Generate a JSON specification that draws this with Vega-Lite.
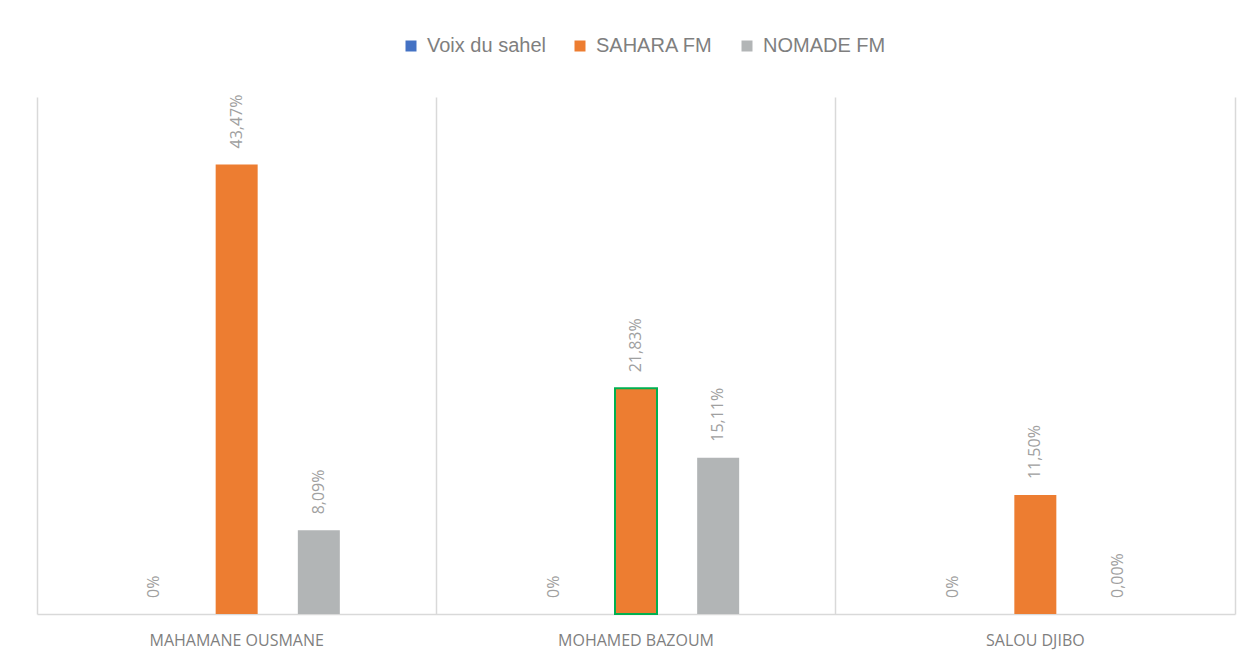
{
  "$schema": "https://vega.github.io/schema/vega-lite/v6.json",
  "width": 1198,
  "height": 517,
  "autosize": {"type": "none"},
  "padding": {"left": 37, "top": 97, "right": 17, "bottom": 44},
  "background": "white",
  "config": {
    "view": {"stroke": null},
    "font": "Liberation Sans"
  },
  "data": {
    "values": [
      {"candidat": "MAHAMANE OUSMANE", "radio": "Voix du sahel", "value": 0, "label": "0%"},
      {"candidat": "MAHAMANE OUSMANE", "radio": "SAHARA FM", "value": 0.4347, "label": "43,47%"},
      {"candidat": "MAHAMANE OUSMANE", "radio": "NOMADE FM", "value": 0.0809, "label": "8,09%"},
      {"candidat": "MOHAMED BAZOUM", "radio": "Voix du sahel", "value": 0, "label": "0%"},
      {"candidat": "MOHAMED BAZOUM", "radio": "SAHARA FM", "value": 0.2183, "label": "21,83%"},
      {"candidat": "MOHAMED BAZOUM", "radio": "NOMADE FM", "value": 0.1511, "label": "15,11%"},
      {"candidat": "SALOU DJIBO", "radio": "Voix du sahel", "value": 0, "label": "0%"},
      {"candidat": "SALOU DJIBO", "radio": "SAHARA FM", "value": 0.115, "label": "11,50%"},
      {"candidat": "SALOU DJIBO", "radio": "NOMADE FM", "value": 0, "label": "0,00%"}
    ]
  },
  "encoding": {
    "x": {
      "field": "candidat",
      "type": "nominal",
      "sort": ["MAHAMANE OUSMANE", "MOHAMED BAZOUM", "SALOU DJIBO"],
      "scale": {"paddingInner": 0, "paddingOuter": 0},
      "axis": {
        "title": null,
        "bandPosition": 0,
        "grid": true,
        "gridColor": "#d9d9d9",
        "gridWidth": 1.5,
        "domain": true,
        "domainColor": "#d9d9d9",
        "domainWidth": 1.5,
        "ticks": false,
        "labelAngle": 0,
        "labelAlign": "center",
        "labelPadding": 18,
        "labelFontSize": 16,
        "labelColor": "#7f7f7f",
        "labelFont": "Open Sans"
      }
    },
    "xOffset": {
      "field": "radio",
      "type": "nominal",
      "sort": ["Voix du sahel", "SAHARA FM", "NOMADE FM"],
      "scale": {"paddingInner": 0, "paddingOuter": 0.93}
    },
    "y": {
      "field": "value",
      "type": "quantitative",
      "scale": {"domain": [0, 0.5]},
      "axis": {
        "orient": "right",
        "title": null,
        "labels": false,
        "ticks": false,
        "grid": false,
        "domain": true,
        "domainColor": "#d9d9d9",
        "domainWidth": 1.5
      }
    }
  },
  "layer": [
    {
      "mark": {"type": "bar", "strokeWidth": 2, "width": 42},
      "encoding": {
        "color": {
          "field": "radio",
          "type": "nominal",
          "sort": ["Voix du sahel", "SAHARA FM", "NOMADE FM"],
          "scale": {
            "domain": ["Voix du sahel", "SAHARA FM", "NOMADE FM"],
            "range": ["#4472c4", "#ed7d31", "#b2b5b6"]
          },
          "legend": {
            "title": null,
            "orient": "none",
            "direction": "horizontal",
            "legendX": 364,
            "legendY": -61,
            "symbolType": "square",
            "symbolSize": 121,
            "symbolStrokeWidth": 0,
            "labelFontSize": 20,
            "labelColor": "#7f7f7f",
            "labelFont": "Liberation Sans",
            "columnPadding": 24,
            "labelOffset": 6
          }
        },
        "stroke": {
          "condition": {
            "test": "datum.candidat === 'MOHAMED BAZOUM' && datum.radio === 'SAHARA FM'",
            "value": "#00b050"
          },
          "value": null
        }
      }
    },
    {
      "mark": {
        "type": "text",
        "angle": 270,
        "align": "left",
        "baseline": "middle",
        "dx": 16,
        "fontSize": 16,
        "color": "#a0a0a0",
        "font": "Open Sans"
      },
      "encoding": {
        "text": {"field": "label"}
      }
    }
  ]
}
